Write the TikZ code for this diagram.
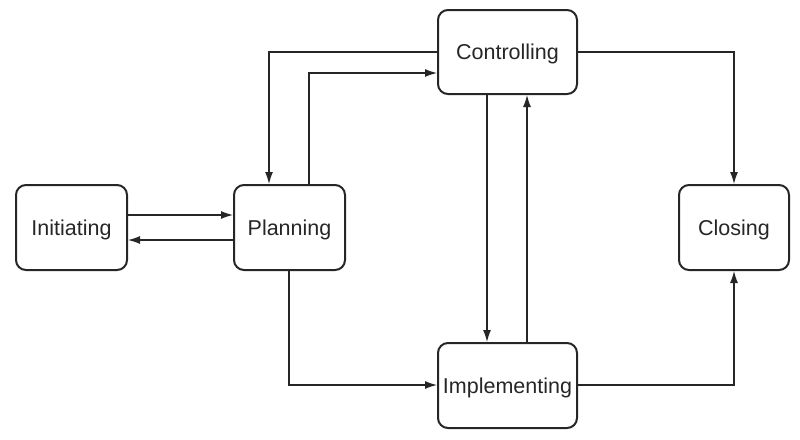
\documentclass[tikz,border=0pt]{standalone}
\usepackage{fontspec}
\setmainfont{Liberation Sans}
\usetikzlibrary{arrows.meta}
\begin{document}
\begin{tikzpicture}[x=1pt,y=-1pt,
  stage/.style={draw=black!85,line width=2pt,rounded corners=10pt,inner sep=0pt,
    text height=19pt,text depth=4pt,
    font=\fontsize{21.5}{24}\selectfont,text=black!85},
  conn/.style={draw=black!85,line width=1.2pt,-{Latex[length=12pt,width=8pt]}}]
\useasboundingbox (0,0) rectangle (800,439);
\node[stage,minimum width=111pt,minimum height=85pt] (ini) at (71.5,227.5) {Initiating};
\node[stage,minimum width=111pt,minimum height=85pt] (pla) at (289.5,227.5) {Planning};
\node[stage,minimum width=139pt,minimum height=84pt] (con) at (507.5,52) {Controlling};
\node[stage,minimum width=110pt,minimum height=85pt] (clo) at (734,227.5) {Closing};
\node[stage,minimum width=139pt,minimum height=85pt] (imp) at (507.5,385.5) {Implementing};
\coordinate (c1) at (269,52);
\coordinate (c2) at (309,73);
\coordinate (c3) at (734,52);
\coordinate (c4) at (289,385);
\coordinate (c5) at (734,385);
\draw[conn] (ini.east |- 0,215) -- (pla.west |- 0,215);
\draw[conn] (pla.west |- 0,240) -- (ini.east |- 0,240);
\draw[conn] (con.west |- c1) -- (c1) -- (c1 |- pla.north);
\draw[conn] (c2 |- pla.north) -- (c2) -- (c2 -| con.west);
\draw[conn] (487,0 |- con.south) -- (487,0 |- imp.north);
\draw[conn] (527,0 |- imp.north) -- (527,0 |- con.south);
\draw[conn] (con.east |- c3) -- (c3) -- (clo.north);
\draw[conn] (c4 |- pla.south) -- (c4) -- (c4 -| imp.west);
\draw[conn] (imp.east |- c5) -- (c5) -- (clo.south);
\end{tikzpicture}
\end{document}
